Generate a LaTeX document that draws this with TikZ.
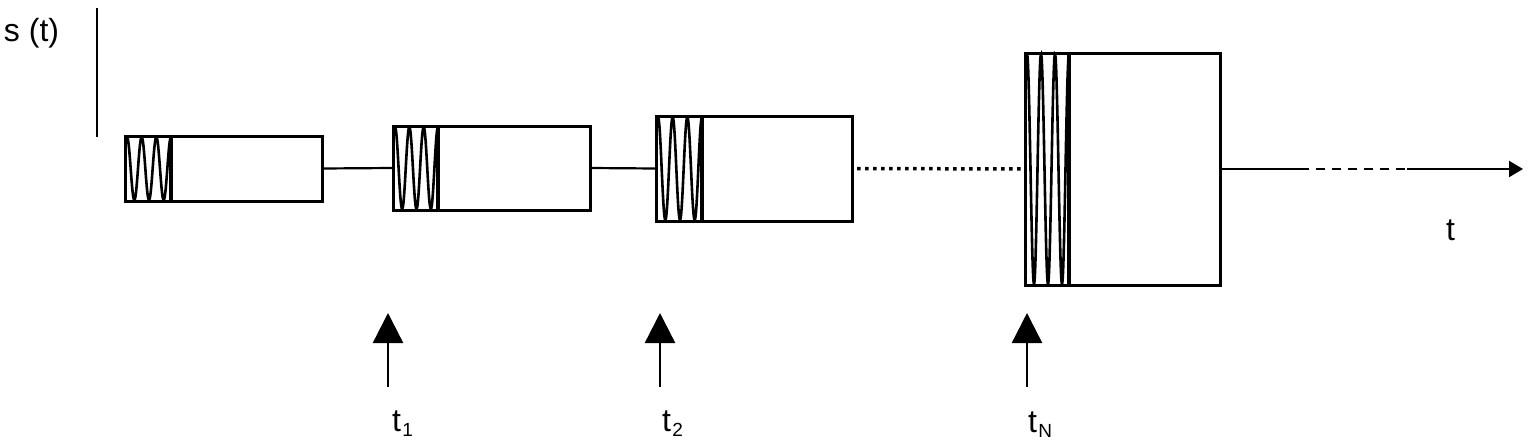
\documentclass[tikz,border=0pt]{standalone}
\usepackage{fontspec}
\setmainfont{Liberation Sans}
\usetikzlibrary{arrows.meta}
\newcommand\sigwave[4]{%
  \draw[wave] plot[domain=0:1,samples=90,smooth]
    ({#1+\x*(#2-#1)},{(#3+#4)/2-(#4-#3)/2*cos(3*360*\x)});
  \draw[divider] (#2,#3) -- (#2,#4);}
\newcommand\subsc[1]{\hspace{1.5pt}\raisebox{-5pt}{\fontsize{19}{19}\selectfont #1}}
\begin{document}
\begin{tikzpicture}[x=1pt,y=-1pt,
  sigbox/.style={draw, line width=3pt, inner sep=0pt, outer sep=0pt, fill=white},
  conn/.style={line width=2.2pt},
  wave/.style={line width=2.6pt},
  divider/.style={line width=4pt},
  dotline/.style={line width=3.5pt, dash pattern=on 3.5pt off 4.5pt},
  dashline/.style={line width=2.6pt, dash pattern=on 9pt off 7pt},
  uparrow/.style={line width=2.4pt, -{Triangle[width=30pt,length=30pt]}},
  lbl/.style={font=\fontsize{32}{32}\selectfont, inner sep=0pt, outer sep=0pt}]
\path[use as bounding box] (0,0) rectangle (1528,442);
% boxes
\node[sigbox, minimum width=197pt, minimum height=65pt]  (b1) at (223.5,168.5) {};
\node[sigbox, minimum width=197pt, minimum height=84pt]  (b2) at (491.5,168) {};
\node[sigbox, minimum width=196pt, minimum height=105pt] (b3) at (754,168.5) {};
\node[sigbox, minimum width=195pt, minimum height=232pt] (b4) at (1122.5,169) {};
% waveforms
\sigwave{127}{171}{137}{200}
\sigwave{395}{438}{127}{209}
\sigwave{658}{702}{117}{220}
\sigwave{1027}{1069}{54}{284}
% connectors
\draw[conn] (b1.east) -- (b2.west);
\draw[conn] (b2.east) -- (b3.west);
\draw[dotline] ([xshift=5pt]b3.east) -- (b4.west);
\coordinate (c1) at (1300,169);
\coordinate (c2) at (1407,169);
\coordinate (tip) at (1523,169);
\draw[conn] (b4.east) -- (c1);
\draw[dashline] (c1) -- (c2);
\draw[conn, -{Triangle[width=16pt,length=14pt]}] (c2) -- (tip);
% vertical axis
\coordinate (ax1) at (97,8);
\coordinate (ax2) at (97,137);
\draw[conn] (ax1) -- (ax2);
% time markers
\coordinate (a1s) at (388,387); \coordinate (a1e) at (388,313);
\coordinate (a2s) at (660,387); \coordinate (a2e) at (660,313);
\coordinate (a3s) at (1027,387); \coordinate (a3e) at (1027,313);
\draw[uparrow] (a1s) -- (a1e);
\draw[uparrow] (a2s) -- (a2e);
\draw[uparrow] (a3s) -- (a3e);
% labels
\node[lbl, anchor=base west] (st) at (4,41) {s (t)};
\node[lbl, anchor=base west] (tl) at (1446,240) {t};
\node[lbl, anchor=base west] (l1) at (392,431) {t\subsc{1}};
\node[lbl, anchor=base west] (l2) at (662,431) {t\subsc{2}};
\node[lbl, anchor=base west] (l3) at (1028,432) {t\subsc{N}};
\end{tikzpicture}
\end{document}
